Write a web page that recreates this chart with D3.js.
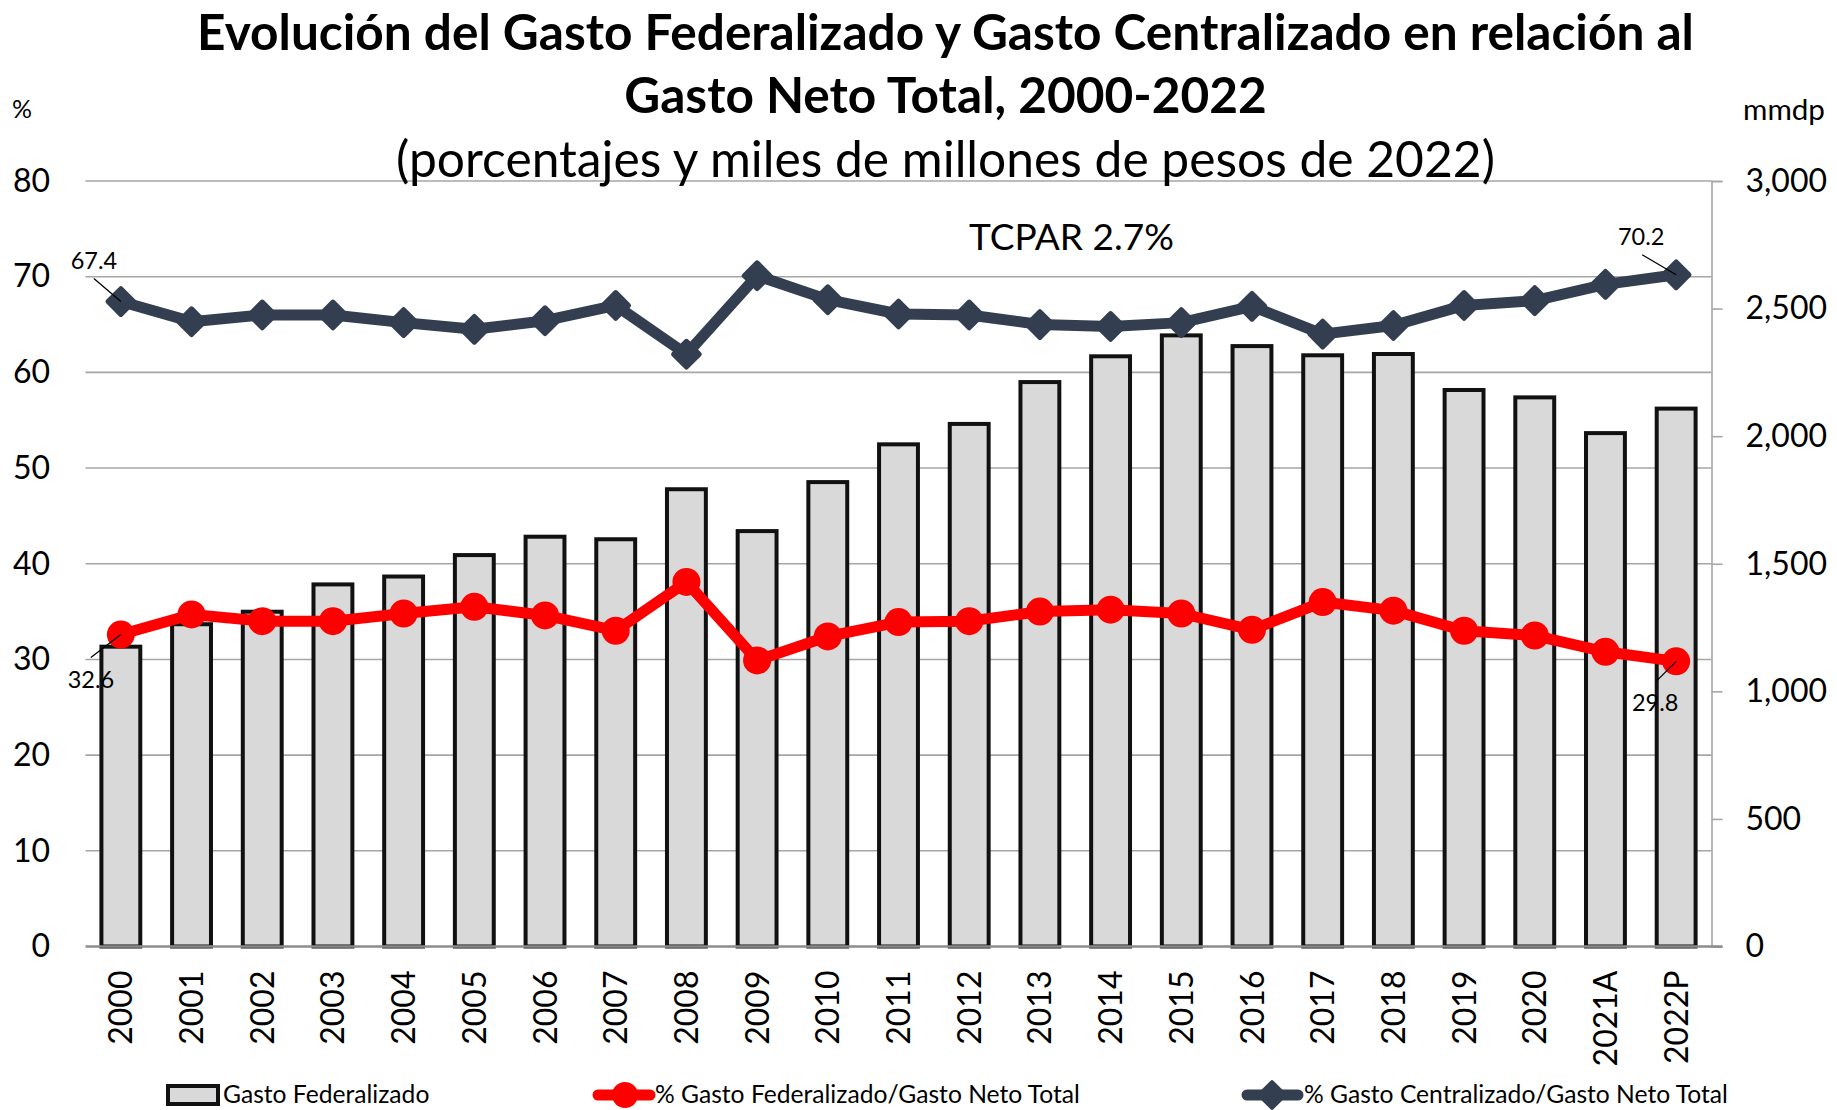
<!DOCTYPE html>
<html>
<head>
<meta charset="utf-8">
<script src="https://cdn.jsdelivr.net/npm/d3@7"></script>
<style>
  html, body { margin: 0; padding: 0; background: #ffffff; }
  svg { display: block; }
  text { font-family: Lato, "Open Sans", sans-serif; fill: #000; }
</style>
</head>
<body>
<svg id="chart" width="1837" height="1110"></svg>
<script>
// ---- Data ----
const categories = ["2000","2001","2002","2003","2004","2005","2006","2007","2008","2009","2010","2011","2012","2013","2014","2015","2016","2017","2018","2019","2020","2021A","2022P"];
// Gasto Federalizado, miles de millones de pesos de 2022 (right axis)
const gastoFederalizado = [1175,1263,1312,1419,1450,1534,1606,1596,1792,1628,1820,1968,2048,2212,2313,2395,2353,2317,2322,2181,2152,2012,2108];
// % Gasto Federalizado / Gasto Neto Total (left axis)
const pctFederalizado = [32.6,34.7,34.0,34.0,34.8,35.5,34.6,33.0,38.1,29.9,32.4,33.9,34.0,35.0,35.2,34.8,33.1,36.0,35.1,33.0,32.5,30.8,29.8];
// % Gasto Centralizado / Gasto Neto Total (left axis)
const pctCentralizado = [67.4,65.3,66.0,66.0,65.2,64.5,65.4,67.0,61.9,70.1,67.6,66.1,66.0,65.0,64.8,65.2,66.9,64.0,64.9,67.0,67.5,69.2,70.2];
const leftTicks = [0,10,20,30,40,50,60,70,80];
const rightTicks = [0,500,1000,1500,2000,2500,3000];
const titleLines = ["Evolución del Gasto Federalizado y Gasto Centralizado en relación al", "Gasto Neto Total, 2000-2022"];
const subtitle = "(porcentajes y miles de millones de pesos de 2022)";
const annotation = "TCPAR 2.7%";
const legendLabels = ["Gasto Federalizado", "% Gasto Federalizado/Gasto Neto Total", "% Gasto Centralizado/Gasto Neto Total"];

// ---- Layout ----
const plot = { left: 85.5, right: 1711.5, top: 181, bottom: 946.5 };
const colors = { bar: "#d9d9d9", red: "#ff0000", dark: "#333f50", grid: "#a6a6a6", axis: "#8c8c8c" };

const svg = d3.select("#chart");

const x = d3.scaleBand().domain(categories).range([plot.left, plot.right]).paddingInner(0.45).paddingOuter(0.225);
const yL = d3.scaleLinear().domain([0, 80]).range([plot.bottom, plot.top]);
const yR = d3.scaleLinear().domain([0, 3000]).range([plot.bottom, plot.top]);
const cx = d => x(d) + x.bandwidth() / 2;

function fitWidth(sel, target) {
  sel.each(function () {
    const len = this.getComputedTextLength();
    const fs = parseFloat(this.getAttribute("font-size"));
    if (len > 0) this.setAttribute("font-size", (fs * target / len).toFixed(2));
  });
}

// Grid lines
const grid = svg.append("g");
grid.selectAll("line").data(leftTicks.filter(t => t > 0)).join("line")
  .attr("x1", plot.left).attr("x2", plot.right)
  .attr("y1", d => yL(d)).attr("y2", d => yL(d))
  .attr("stroke", colors.grid).attr("stroke-width", 1.6);

// Left axis (labels only)
const gL = svg.append("g").attr("transform", `translate(${plot.left},0)`)
  .call(d3.axisLeft(yL).tickValues(leftTicks).tickSize(0).tickPadding(35.5));
gL.select(".domain").remove();
gL.selectAll("text").attr("font-size", 32).attr("font-family", "Lato").attr("fill", "#000");

// Right axis
const gR = svg.append("g").attr("transform", `translate(${plot.right},0)`)
  .call(d3.axisRight(yR).tickValues(rightTicks).tickSize(11).tickPadding(23).tickFormat(d3.format(",")));
gR.select(".domain").attr("stroke", colors.grid).attr("stroke-width", 1.6);
gR.selectAll(".tick line").attr("stroke", colors.grid).attr("stroke-width", 1.6);
gR.selectAll("text").attr("font-size", 32).attr("font-family", "Lato").attr("fill", "#000");

// Bars
svg.append("g").selectAll("rect").data(categories).join("rect")
  .attr("x", d => x(d))
  .attr("width", x.bandwidth())
  .attr("y", (d, i) => yR(gastoFederalizado[i]))
  .attr("height", (d, i) => yR(0) - yR(gastoFederalizado[i]))
  .attr("fill", colors.bar).attr("stroke", "#111").attr("stroke-width", 4);

// Bottom axis line
svg.append("line")
  .attr("x1", plot.left).attr("x2", plot.right + 11)
  .attr("y1", yL(0)).attr("y2", yL(0))
  .attr("stroke", colors.axis).attr("stroke-width", 2.5);

// Category labels
svg.append("g").selectAll("text").data(categories).join("text")
  .attr("transform", d => `translate(${cx(d)},${plot.bottom + 24}) rotate(-90)`)
  .attr("text-anchor", "end").attr("dy", "0.36em")
  .attr("font-size", 32)
  .text(d => d);

// Lines
const lineGen = d3.line().x((d, i) => cx(categories[i])).y(d => yL(d));
svg.append("path").datum(pctFederalizado)
  .attr("d", lineGen).attr("fill", "none")
  .attr("stroke", colors.red).attr("stroke-width", 11).attr("stroke-linejoin", "round");
svg.append("path").datum(pctCentralizado)
  .attr("d", lineGen).attr("fill", "none")
  .attr("stroke", colors.dark).attr("stroke-width", 11).attr("stroke-linejoin", "round");

// Markers
svg.append("g").selectAll("circle").data(pctFederalizado).join("circle")
  .attr("cx", (d, i) => cx(categories[i])).attr("cy", d => yL(d))
  .attr("r", 14).attr("fill", colors.red);

const diamond = d3.symbol().type(d3.symbolSquare).size(330);
svg.append("g").selectAll("path").data(pctCentralizado).join("path")
  .attr("d", diamond)
  .attr("transform", (d, i) => `translate(${cx(categories[i])},${yL(d)}) rotate(45)`)
  .attr("fill", colors.dark).attr("stroke", colors.dark).attr("stroke-width", 5).attr("stroke-linejoin", "round");

// Data labels with leader lines
const n = categories.length - 1;
const dataLabels = [
  { i: 0, v: pctCentralizado[0], lead: [-27, -23], txt: [-27, -33] },
  { i: 0, v: pctFederalizado[0], lead: [-30, 23], txt: [-30, 53] },
  { i: n, v: pctCentralizado[n], lead: [-34, -20], txt: [-35, -30] },
  { i: n, v: pctFederalizado[n], lead: [-19, 19], txt: [-21, 50] }
];
const dl = svg.append("g");
dataLabels.forEach(l => {
  const px = cx(categories[l.i]), py = yL(l.v);
  dl.append("line")
    .attr("x1", px).attr("y1", py).attr("x2", px + l.lead[0]).attr("y2", py + l.lead[1])
    .attr("stroke", "#000").attr("stroke-width", 1.3);
  dl.append("text")
    .attr("x", px + l.txt[0]).attr("y", py + l.txt[1])
    .attr("text-anchor", "middle").attr("font-size", 23.5)
    .text(d3.format(".1f")(l.v));
});

// Titles
const t1 = svg.append("text").attr("x", 945.5).attr("y", 50).attr("text-anchor", "middle")
  .attr("font-weight", 700).attr("font-size", 40).text(titleLines[0]);
fitWidth(t1, 1497);
const t2 = svg.append("text").attr("x", 945.5).attr("y", 113).attr("text-anchor", "middle")
  .attr("font-weight", 700).attr("font-size", 40).text(titleLines[1]);
t2.attr("font-size", t1.attr("font-size"));
const st = svg.append("text").attr("x", 945.5).attr("y", 177).attr("text-anchor", "middle")
  .attr("font-size", 44).text(subtitle);
fitWidth(st, 1099);

// Axis unit labels
const pu = svg.append("text").attr("x", 12).attr("y", 118).attr("font-size", 24).text("%");
fitWidth(pu, 20);
const mu = svg.append("text").attr("x", 1743).attr("y", 120).attr("font-size", 26).text("mmdp");
fitWidth(mu, 82);

// Annotation
const an = svg.append("text").attr("x", 969).attr("y", 250).attr("font-size", 34).text(annotation);
fitWidth(an, 205);

// Legend
const lg = svg.append("g");
const legY = 1095;
lg.append("rect").attr("x", 168).attr("y", 1086).attr("width", 50).attr("height", 18)
  .attr("fill", colors.bar).attr("stroke", "#111").attr("stroke-width", 4);
lg.append("line").attr("x1", 598).attr("x2", 650).attr("y1", legY).attr("y2", legY)
  .attr("stroke", colors.red).attr("stroke-width", 11).attr("stroke-linecap", "round");
lg.append("circle").attr("cx", 625).attr("cy", legY).attr("r", 13).attr("fill", colors.red);
lg.append("line").attr("x1", 1247).attr("x2", 1298).attr("y1", legY).attr("y2", legY)
  .attr("stroke", colors.dark).attr("stroke-width", 11).attr("stroke-linecap", "round");
lg.append("path").attr("d", diamond)
  .attr("transform", `translate(1272,${legY}) rotate(45)`)
  .attr("fill", colors.dark).attr("stroke", colors.dark).attr("stroke-width", 4).attr("stroke-linejoin", "round");
const legX = [223, 655, 1304];
const legT = lg.selectAll("text.leg").data(legendLabels).join("text").attr("class", "leg")
  .attr("x", (d, i) => legX[i]).attr("y", 1103).attr("font-size", 26).text(d => d);
fitWidth(legT.filter((d, i) => i === 1), 425);
const lfs = legT.filter((d, i) => i === 1).attr("font-size");
legT.attr("font-size", lfs);
</script>
</body>
</html>
